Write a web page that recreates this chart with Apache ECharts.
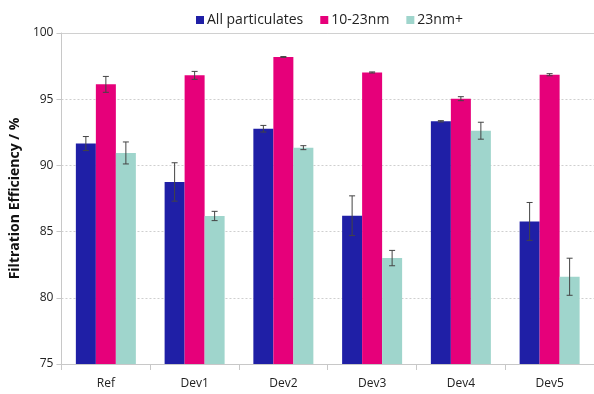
<!DOCTYPE html>
<html><head><meta charset="utf-8">
<script src="https://cdn.jsdelivr.net/npm/echarts@6/dist/echarts.min.js"></script>
<style>html,body{margin:0;padding:0;background:#fff}#c{width:594px;height:394px}</style>
</head><body><div id="c"></div>
<script>
const categories = ['Ref','Dev1','Dev2','Dev3','Dev4','Dev5'];
const seriesNames = ['All particulates','10-23nm','23nm+'];
const allParticulates = [91.65, 88.75, 92.77, 86.2, 93.33, 85.77];
const nm10to23 = [96.12, 96.8, 98.19, 97.02, 95.04, 96.85];
const nm23plus = [90.94, 86.18, 91.34, 83.0, 92.62, 81.59];
const errAll = [0.53, 1.45, 0.25, 1.5, 0.05, 1.43];
const err10 = [0.6, 0.3, 0.03, 0.04, 0.15, 0.08];
const err23 = [0.83, 0.35, 0.15, 0.58, 0.64, 1.4];
const yTicks = [75, 80, 85, 90, 95, 100];

const colors = ['#1f1fa6', '#e6007a', '#9fd5cc'];
const values = [allParticulates, nm10to23, nm23plus];
const errors = [errAll, err10, err23];
const BW = 20;

const chart = echarts.init(document.getElementById('c'));
const series = [];
values.forEach((v, i) => {
  series.push({
    name: seriesNames[i], type: 'bar', data: v, barWidth: BW, barGap: '0%',
    itemStyle: { color: colors[i] }, z: 2
  });
});
values.forEach((v, i) => {
  series.push({
    type: 'custom', name: 'err' + i, silent: true, z: 5,
    data: v.map((val, k) => [k, val - errors[i][k], val + errors[i][k]]),
    renderItem: function (params, api) {
      const k = api.value(0);
      const lo = api.coord([k, api.value(1)]);
      const hi = api.coord([k, api.value(2)]);
      const x = lo[0] + (i - 1) * BW;
      const cap = 3;
      const st = { stroke: '#444', lineWidth: 1 };
      return { type: 'group', children: [
        { type: 'line', shape: { x1: x, y1: hi[1], x2: x, y2: lo[1] }, style: st },
        { type: 'line', shape: { x1: x - cap, y1: hi[1], x2: x + cap, y2: hi[1] }, style: st },
        { type: 'line', shape: { x1: x - cap, y1: lo[1], x2: x + cap, y2: lo[1] }, style: st }
      ]};
    }
  });
});

chart.setOption({
  animation: false,
  textStyle: { fontFamily: 'Open Sans' },
  legend: {
    data: seriesNames, top: 8, left: 191, itemWidth: 8, itemHeight: 8, itemGap: 17,
    icon: 'rect', textStyle: { fontSize: 14, color: '#222', fontFamily: 'Open Sans', padding: [0, 0, 0, -2] }
  },
  grid: { left: 58, top: 33, width: 540, height: 331 },
  xAxis: [{
    type: 'category', data: categories,
    axisLine: { lineStyle: { color: '#c8c8c8' } },
    axisTick: { show: true, length: 6, lineStyle: { color: '#c8c8c8' } },
    axisLabel: { fontSize: 12, color: '#222', margin: 14 }
  }, {
    type: 'category', data: categories, position: 'top',
    axisLine: { show: true, lineStyle: { color: '#d0d0d0' } },
    axisTick: { show: false }, axisLabel: { show: false }
  }],
  yAxis: {
    type: 'value', min: 75, max: 100, interval: 5,
    name: 'Filtration Efficiency / %', nameLocation: 'middle', nameGap: 30,
    nameTextStyle: { fontSize: 14, fontWeight: 'bold', color: '#111' },
    axisLine: { show: true, lineStyle: { color: '#c8c8c8' } },
    axisTick: { show: true, length: 5, lineStyle: { color: '#c8c8c8' } },
    axisLabel: { fontSize: 12, color: '#222', margin: 8, formatter: v => yTicks.includes(v) ? String(v) : '' },
    splitLine: { lineStyle: { color: '#cfcfcf', type: [2, 2] } }
  },
  series: series
});
</script></body></html>
